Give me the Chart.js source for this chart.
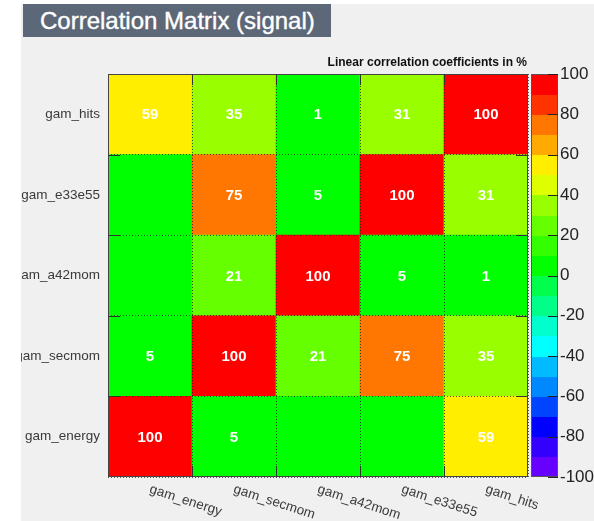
<!DOCTYPE html>
<html>
<head>
<meta charset="utf-8">
<script src="https://cdn.jsdelivr.net/npm/chart.js@4.4.1/dist/chart.umd.min.js"></script>
<style>
  html, body { margin: 0; padding: 0; background: #ffffff; }
  body { width: 594px; height: 521px; position: relative; overflow: hidden; font-family: "Liberation Sans", Arial, sans-serif; }
  #pad { position: absolute; left: 21px; top: 4px; width: 573px; height: 517px; background: #f0f0f0; overflow: hidden; }
  #title { position: absolute; left: 23px; top: 4px; width: 291px; height: 33px; padding-left: 17px; background: #5c6777; color: #ffffff; font-size: 24px; line-height: 34px; white-space: nowrap; z-index: 2; -webkit-text-stroke: 0.4px #ffffff; }
  canvas { position: absolute; left: 0; top: 0; }
</style>
</head>
<body>
<div id="pad"><canvas id="corrCanvas" width="573" height="517"></canvas></div>
<div id="title">Correlation Matrix (signal)</div>
<script>
// variables, bottom row / left column first
const variables = ['gam_energy', 'gam_secmom', 'gam_a42mom', 'gam_e33e55', 'gam_hits'];

// one array per row, columns in the order of variables (0 = empty cell)
const rowEnergy = [100, 5, 0, 0, 59];
const rowSecmom = [5, 100, 21, 75, 35];
const rowA42mom = [0, 21, 100, 5, 1];
const rowE33e55 = [0, 75, 5, 100, 31];
const rowHits = [59, 35, 1, 31, 100];
const rows = [rowEnergy, rowSecmom, rowA42mom, rowE33e55, rowHits];

// 20 colour bins from -100 to 100
const paletteColors = [
    '#6600ff', '#3300ff', '#0000ff', '#0044ff', '#0088ff',
    '#00bbff', '#00ffff', '#00ffcc', '#00ff88', '#00ff4c',
    '#00ff00', '#33ff00', '#66ff00', '#99ff00', '#ddff00',
    '#ffee00', '#ffaa00', '#ff7700', '#ff3300', '#ff0000'
];
const colorbarTicks = [-100, -80, -60, -40, -20, 0, 20, 40, 60, 80, 100];

const fontFamily = '"Liberation Sans", Arial, sans-serif';

function cellColor(v) {
    let bin = Math.floor((v + 100) / 10);
    if (bin > 19) bin = 19;
    if (bin < 0) bin = 0;
    return paletteColors[bin];
}

const datasets = rows.map((vals, r) => ({
    label: variables[r],
    data: vals.map(() => [r, r + 1]),
    backgroundColor: vals.map(cellColor),
    borderWidth: 0,
    grouped: false,
    barPercentage: 1,
    categoryPercentage: 1
}));

// draws the cell numbers, frame, ticks, colour bar and the rotated x labels
const overlayPlugin = {
    id: 'overlay',
    afterDraw(chart) {
        const ctx = chart.ctx;
        const area = chart.chartArea;
        const xs = chart.scales.x;
        const ys = chart.scales.yg;
        const cb = chart.scales.cb;
        ctx.save();

        // numbers in cells
        ctx.fillStyle = '#ffffff';
        ctx.font = 'bold 15px ' + fontFamily;
        ctx.textAlign = 'center';
        ctx.textBaseline = 'middle';
        rows.forEach((vals, r) => {
            const meta = chart.getDatasetMeta(r);
            meta.data.forEach((bar, c) => {
                if (vals[c] === 0) return;
                ctx.fillText(String(vals[c]), bar.x, (bar.y + bar.base) / 2 + 1);
            });
        });

        // frame
        ctx.strokeStyle = '#444444';
        ctx.lineWidth = 1;
        ctx.strokeRect(area.left + 0.5, area.top + 0.5, area.width - 1, area.height - 1);

        // ticks at the cell boundaries
        ctx.strokeStyle = '#333333';
        ctx.beginPath();
        for (let i = 1; i < variables.length; i++) {
            const x = Math.round((xs.getPixelForValue(i - 1) + xs.getPixelForValue(i)) / 2) + 0.5;
            ctx.moveTo(x, area.top); ctx.lineTo(x, area.top + 11);
            ctx.moveTo(x, area.bottom); ctx.lineTo(x, area.bottom - 11);
            const y = Math.round(ys.getPixelForValue(i)) + 0.5;
            ctx.moveTo(area.left, y); ctx.lineTo(area.left + 12, y);
            ctx.moveTo(area.right, y); ctx.lineTo(area.right - 12, y);
        }
        ctx.stroke();

        // colour bar
        const barLeft = area.right + 3;
        const barWidth = 27;
        paletteColors.forEach((col, i) => {
            const lo = -100 + 10 * i;
            const yTop = cb.getPixelForValue(lo + 10);
            const yBot = cb.getPixelForValue(lo);
            ctx.fillStyle = col;
            ctx.fillRect(barLeft, Math.floor(yTop), barWidth, Math.ceil(yBot) - Math.floor(yTop));
        });
        ctx.strokeStyle = '#555555';
        ctx.strokeRect(barLeft + 0.5, cb.top + 0.5, barWidth - 1, cb.bottom - cb.top - 1);
        ctx.strokeStyle = '#222222';
        ctx.beginPath();
        colorbarTicks.forEach(t => {
            const y = Math.round(cb.getPixelForValue(t)) + 0.5;
            ctx.moveTo(barLeft + barWidth - 10, y);
            ctx.lineTo(barLeft + barWidth, y);
        });
        ctx.stroke();

        // colour bar title
        ctx.fillStyle = '#111111';
        ctx.font = 'bold 12px ' + fontFamily;
        ctx.textAlign = 'right';
        ctx.textBaseline = 'middle';
        ctx.fillText('Linear correlation coefficients in %', area.right - 1, area.top - 11);

        // rotated x labels
        ctx.fillStyle = '#3a3a3a';
        ctx.font = '13.5px ' + fontFamily;
        ctx.textAlign = 'left';
        ctx.textBaseline = 'middle';
        variables.forEach((name, i) => {
            ctx.save();
            ctx.translate(xs.getPixelForValue(i), area.bottom + 12);
            ctx.rotate(18 * Math.PI / 180);
            ctx.fillText(name, 0, 0);
            ctx.restore();
        });

        ctx.restore();
    }
};

const ctx = document.getElementById('corrCanvas').getContext('2d');
const corrChart = new Chart(ctx, {
    type: 'bar',
    data: {
        labels: variables,
        datasets: datasets
    },
    plugins: [overlayPlugin],
    options: {
        responsive: false,
        animation: false,
        devicePixelRatio: 1,
        layout: {
            padding: { top: 70, left: 0, right: 0, bottom: 0 }
        },
        plugins: {
            legend: { display: false },
            tooltip: { enabled: false },
            title: { display: false }
        },
        scales: {
            x: {
                type: 'category',
                offset: true,
                grid: {
                    offset: true,
                    drawTicks: false,
                    color: 'rgba(30, 30, 30, 0.75)',
                    z: 1
                },
                border: { display: false, dash: [1, 2] },
                ticks: { display: false },
                afterFit: (axis) => { axis.height = 44; }
            },
            y: {
                type: 'linear',
                position: 'left',
                min: 0,
                max: 5,
                grid: { display: false, drawTicks: false },
                border: { display: false },
                afterBuildTicks: (axis) => {
                    axis.ticks = variables.map((_, i) => ({ value: i + 0.5 }));
                },
                ticks: {
                    padding: 8,
                    color: '#3a3a3a',
                    font: { family: fontFamily, size: 13.5 },
                    callback: (value) => variables[Math.round(value - 0.5)]
                },
                afterFit: (axis) => { axis.width = 87; }
            },
            yg: {
                type: 'linear',
                position: 'left',
                min: 0,
                max: 5,
                ticks: { display: false, stepSize: 1 },
                grid: {
                    drawTicks: false,
                    color: 'rgba(30, 30, 30, 0.75)',
                    z: 1
                },
                border: { display: false, dash: [1, 2] },
                afterFit: (axis) => { axis.width = 0; }
            },
            cb: {
                type: 'linear',
                position: 'right',
                min: -100,
                max: 100,
                grid: { display: false, drawTicks: false },
                border: { display: false },
                ticks: {
                    stepSize: 20,
                    padding: 32,
                    color: '#222222',
                    font: { family: fontFamily, size: 17 }
                },
                afterFit: (axis) => { axis.width = 66; }
            }
        }
    }
});
</script>
</body>
</html>
